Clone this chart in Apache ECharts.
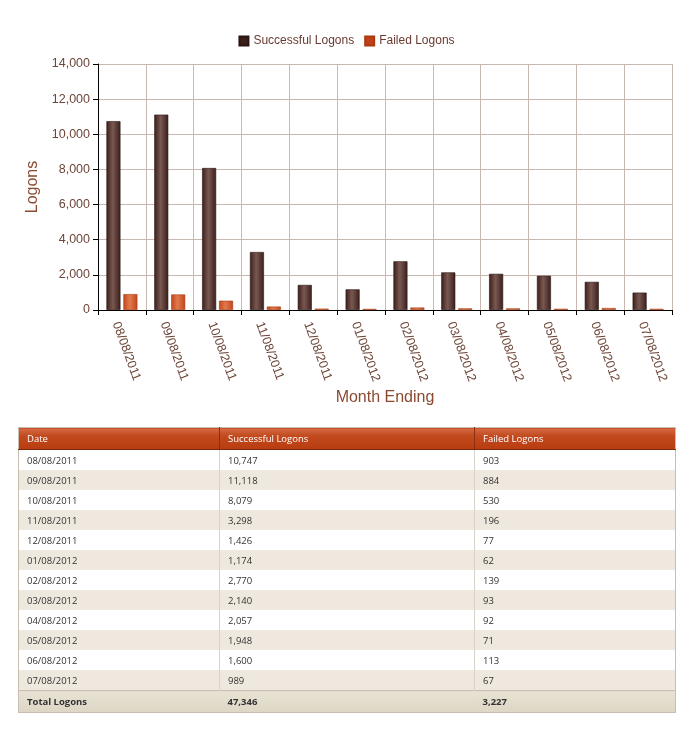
<!DOCTYPE html>
<html>
<head>
<meta charset="utf-8">
<script src="https://cdn.jsdelivr.net/npm/echarts@6/dist/echarts.min.js"></script>
<style>
  html, body { margin: 0; padding: 0; background: #fff; }
  #chart { position: absolute; left: 0; top: 0; width: 693px; height: 731px; }
  #tbl { position: absolute; left: 18px; top: 427px; width: 658px; border-collapse: collapse;
         font-family: "Open Sans", "DejaVu Sans", sans-serif; font-size: 9.5px; color: #333; table-layout: fixed;
         border: 1px solid #c9bfb0; box-sizing: border-box; }
  #tbl th { height: 21px; padding: 0 0 0 8px; text-align: left; font-weight: normal; color: #fff;
            background: linear-gradient(#d66a45 0%, #c24a1f 35%, #b83c10 100%); border-right: 1px solid #8a3010; border-bottom: 1px solid #7a2a0a; }
  #tbl th:last-child { border-right: none; }
  #tbl td { height: 20px; padding: 0 0 0 8px; border-right: 1px solid #d8d2c8; }
  #tbl td:last-child { border-right: none; }
  #tbl tr.alt td { background: #efe8de; }
  #tbl tr.tot td { background: linear-gradient(#e8e2d4, #ddd6c4); font-weight: bold; height: 21px; border-top: 1px solid #c8bfae; border-right: none; }
</style>
</head>
<body>
<div id="chart"></div>
<table id="tbl"><colgroup><col style="width:201px"><col style="width:255px"><col></colgroup><thead></thead><tbody></tbody></table>
<script>
const categories = ["08/08/2011","09/08/2011","10/08/2011","11/08/2011","12/08/2011","01/08/2012","02/08/2012","03/08/2012","04/08/2012","05/08/2012","06/08/2012","07/08/2012"];
const successful = [10747, 11118, 8079, 3298, 1426, 1174, 2770, 2140, 2057, 1948, 1600, 989];
const failed = [903, 884, 530, 196, 77, 62, 139, 93, 92, 71, 113, 67];
const tableHeaders = ["Date", "Successful Logons", "Failed Logons"];
const totalLabel = "Total Logons";

const fmt = v => v.toLocaleString('en-US');
const FF = '"Liberation Sans", Arial, sans-serif';

const chart = echarts.init(document.getElementById('chart'), null, { renderer: 'canvas' });
const brownGrad = new echarts.graphic.LinearGradient(0, 0, 1, 0, [
  { offset: 0, color: '#3a1e1a' }, { offset: 0.45, color: '#7a5852' }, { offset: 1, color: '#3a1e1a' }
]);
const orangeGrad = new echarts.graphic.LinearGradient(0, 0, 1, 0, [
  { offset: 0, color: '#c0461c' }, { offset: 0.45, color: '#e27a4c' }, { offset: 1, color: '#c0461c' }
]);
const txt = '#6e4538';
chart.setOption({
  animation: false,
  textStyle: { fontFamily: FF },
  legend: {
    top: 30, left: 'center', itemWidth: 9, itemHeight: 9, itemGap: 10,
    textStyle: { color: '#6a3a30', fontSize: 12, fontFamily: FF },
    data: [
      { name: 'Successful Logons', icon: 'rect', itemStyle: { color: '#3d1f1a' } },
      { name: 'Failed Logons', icon: 'rect', itemStyle: { color: '#c0401a' } }
    ]
  },
  grid: { left: 98, right: 21, top: 64, bottom: 421, containLabel: false },
  xAxis: {
    type: 'category', data: categories, boundaryGap: true,
    name: 'Month Ending', nameLocation: 'middle', nameGap: 80,
    nameTextStyle: { color: '#8a4a30', fontSize: 16, fontFamily: FF },
    axisLine: { lineStyle: { color: '#000', width: 1 } },
    axisTick: { show: true, alignWithLabel: false, length: 5, lineStyle: { color: '#000' } },
    axisLabel: { rotate: -70, color: txt, fontSize: 12.5, margin: 10, interval: 0, fontFamily: FF, verticalAlign: 'top' },
    splitLine: { show: true, lineStyle: { color: '#c8b8b0' } }
  },
  yAxis: {
    type: 'value', min: 0, max: 14000, interval: 2000,
    name: 'Logons', nameLocation: 'middle', nameGap: 52,
    nameTextStyle: { color: '#8a4a30', fontSize: 16, fontFamily: FF },
    axisLine: { show: true, lineStyle: { color: '#000' } },
    axisTick: { show: true, length: 5, lineStyle: { color: '#000' } },
    axisLabel: { color: txt, fontSize: 12.5, margin: 8, formatter: v => fmt(v), fontFamily: FF },
    splitLine: { show: true, lineStyle: { color: '#c8b8b0' } }
  },
  series: [
    { name: 'Successful Logons', type: 'bar', data: successful, barWidth: 14, barGap: '21%',
      itemStyle: { color: brownGrad, borderColor: '#2a1410', borderWidth: 0.6 } },
    { name: 'Failed Logons', type: 'bar', data: failed, barWidth: 14, barGap: '21%',
      itemStyle: { color: orangeGrad, borderColor: '#a83a10', borderWidth: 0.6 } }
  ]
});

// Table
const thead = document.querySelector('#tbl thead');
const tbody = document.querySelector('#tbl tbody');
thead.innerHTML = '<tr>' + tableHeaders.map(h => `<th>${h}</th>`).join('') + '</tr>';
let rows = '';
categories.forEach((c, i) => {
  rows += `<tr class="${i % 2 ? 'alt' : ''}"><td>${c}</td><td>${fmt(successful[i])}</td><td>${fmt(failed[i])}</td></tr>`;
});
const totS = successful.reduce((a, b) => a + b, 0);
const totF = failed.reduce((a, b) => a + b, 0);
rows += `<tr class="tot"><td>${totalLabel}</td><td>${fmt(totS)}</td><td>${fmt(totF)}</td></tr>`;
tbody.innerHTML = rows;
</script>
</body>
</html>
